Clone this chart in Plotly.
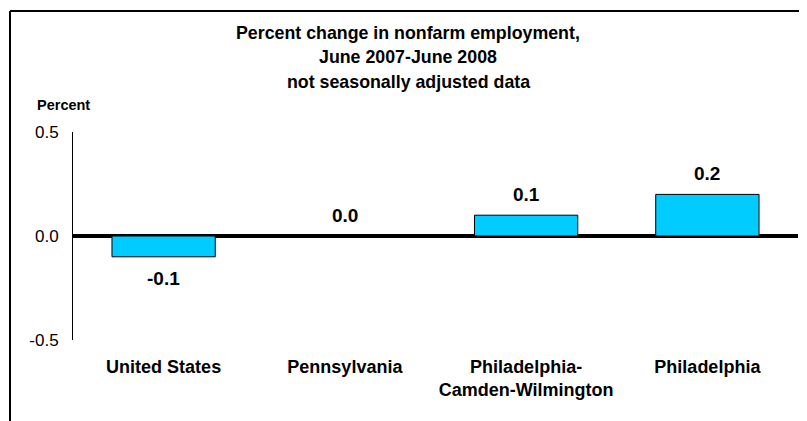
import plotly.graph_objects as go

categories = ["United States", "Pennsylvania", "Philadelphia-<br>Camden-Wilmington", "Philadelphia"]
values = [-0.1, 0.0, 0.1, 0.2]
value_labels = ["-0.1", "0.0", "0.1", "0.2"]
y_ticks = [-0.5, 0.0, 0.5]
y_tick_labels = ["-0.5", "0.0", "0.5"]
title_lines = [
    "Percent change in nonfarm employment,",
    "June 2007-June 2008",
    "not seasonally adjusted data",
]

FONT = "Liberation Sans, Arial, sans-serif"
OFF = 8  # page body margin
W, H = 807 - OFF, 421 - OFF
# plot area in page pixels
PL, PR, PT, PB = 73, 798, 132, 340
ML, MR, MT, MB = PL - OFF, W - (PR - OFF), PT - OFF, H - (PB - OFF)
PW, PH = PR - PL, PB - PT


def px_x(p):
    return (p - PL) / PW


def px_y(p):
    return (PB - p) / PH


fig = go.Figure()
fig.add_trace(go.Bar(
    x=categories, y=values,
    marker=dict(color="#00CCFF", line=dict(color="black", width=1)),
    hoverinfo="x+y",
))

annotations = []
for c, v, t in zip(categories, values, value_labels):
    annotations.append(dict(
        x=c, y=v, xref="x", yref="y", text="<b>%s</b>" % t, showarrow=False,
        yanchor="middle", yshift=(-22 if v < 0 else 21),
        font=dict(family=FONT, size=19, color="black"),
    ))
annotations.append(dict(
    x=px_x(35), y=px_y(105), xref="paper", yref="paper",
    xanchor="left", yanchor="middle", text="<b>Percent</b>", showarrow=False,
    font=dict(family=FONT, size=14.5, color="black"),
))
for line, yc in zip(title_lines, [33, 57, 82]):
    annotations.append(dict(
        x=px_x(408), y=px_y(yc), xref="paper", yref="paper",
        xanchor="center", yanchor="middle", text="<b>%s</b>" % line, showarrow=False,
        font=dict(family=FONT, size=17.8, color="black"),
    ))

shapes = [
    dict(type="line", xref="paper", yref="paper", x0=px_x(10), x1=px_x(10),
         y0=px_y(11), y1=px_y(440), line=dict(color="black", width=2)),
    dict(type="line", xref="paper", yref="paper", x0=px_x(10), x1=px_x(830),
         y0=px_y(11), y1=px_y(11), line=dict(color="black", width=2)),
]

fig.update_layout(
    width=W, height=H,
    margin=dict(l=ML, r=MR, t=MT, b=MB),
    paper_bgcolor="white", plot_bgcolor="white",
    showlegend=False,
    bargap=0.43,
    font=dict(family=FONT, color="black"),
    xaxis=dict(
        showline=False, showgrid=False, zeroline=False, ticks="",
        tickfont=dict(family=FONT, size=18, color="black"),
        ticklabelstandoff=14,
        tickprefix="<b>", ticksuffix="</b>",
    ),
    yaxis=dict(
        range=[-0.5, 0.5], tickvals=y_ticks, ticktext=y_tick_labels,
        showline=True, linecolor="black", linewidth=1,
        ticks="inside", ticklen=5, tickcolor="black", tickwidth=1,
        showgrid=False, zeroline=True, zerolinecolor="black", zerolinewidth=4,
        tickfont=dict(family=FONT, size=17, color="black"),
        ticklabelstandoff=10,
    ),
    annotations=annotations,
    shapes=shapes,
)

fig.write_html("out.html")
